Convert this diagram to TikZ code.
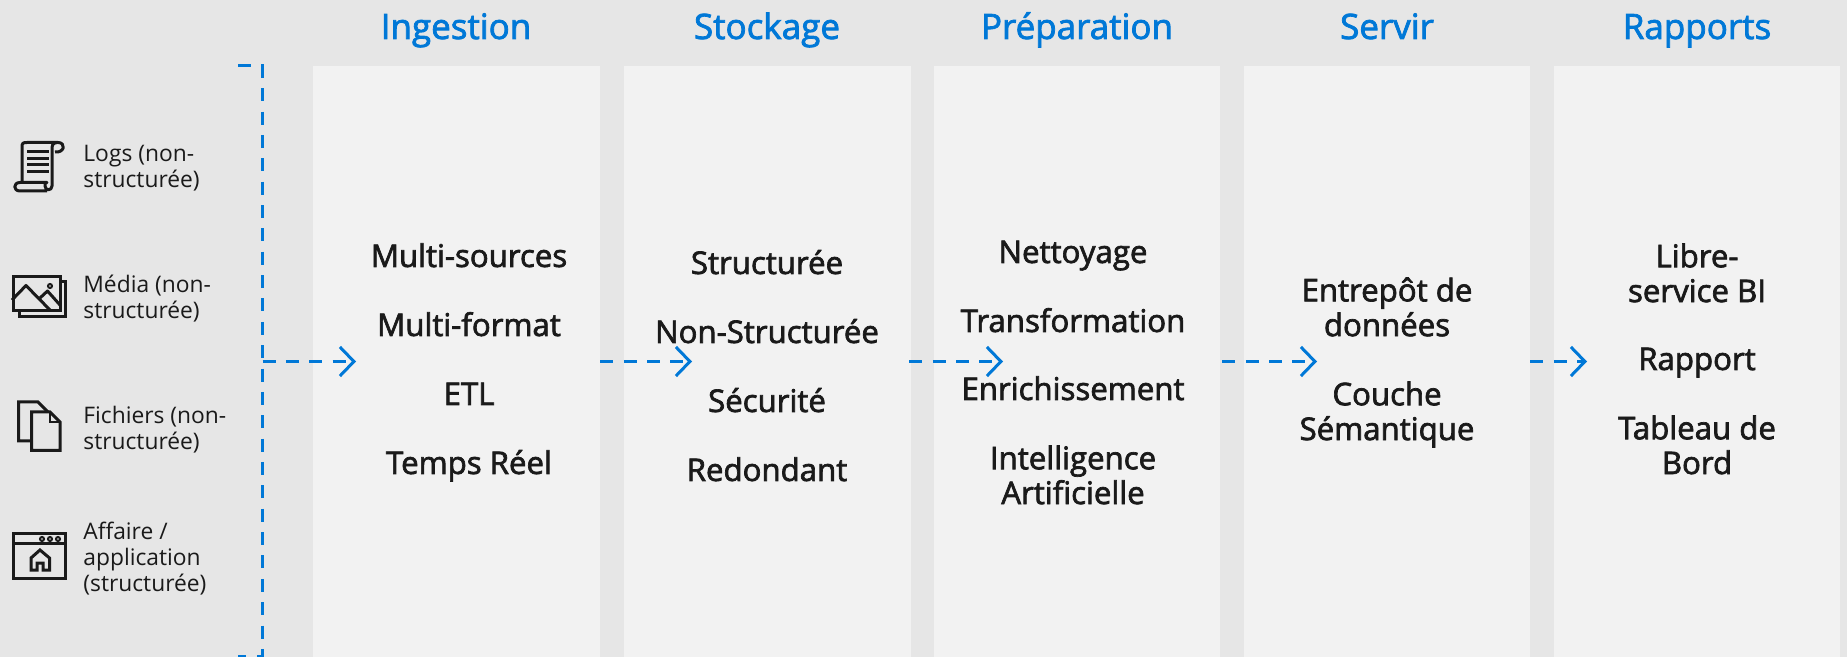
\documentclass[tikz,border=0pt]{standalone}
\usepackage{fontspec}
\usetikzlibrary{arrows.meta}
\setmainfont{Open Sans}
\newfontfamily\semifont[FakeBold=2.2]{Open Sans}
\newfontfamily\lightfont{Open Sans}
\definecolor{bggrey}{HTML}{E6E6E6}
\definecolor{panelgrey}{HTML}{F2F2F2}
\definecolor{msblue}{HTML}{0078D7}
\definecolor{inkblack}{HTML}{1A1A1A}
\tikzset{
  panel/.style={fill=panelgrey,minimum width=#1,minimum height=295.5pt,inner sep=0pt,draw=none},
  heading/.style={font=\semifont\fontsize{17.5}{21}\selectfont,text=msblue,inner sep=0pt},
  item/.style={font=\semifont\fontsize{15.6}{17.4}\selectfont,text=inkblack,align=center,inner sep=0pt,
     execute at begin node=\strut,execute at end node=\strut},
  source/.style={font=\lightfont\fontsize{11.4}{13}\selectfont,text=inkblack,align=left,anchor=west,inner sep=0pt,
     execute at begin node=\strut,execute at end node=\strut},
  flow/.style={draw=msblue,line width=1.5pt,dash pattern=on 6.5pt off 5.18pt},
  flowarrow/.style={flow,-{Straight Barb[length=7pt,width=14.5pt,line width=1.5pt]}},
  icon/.style={draw=inkblack,line width=1.5pt,fill=none},
  iconthin/.style={draw=inkblack,line width=1pt,fill=none},
}
\begin{document}
\begin{tikzpicture}[x=0.5pt,y=-0.5pt]
\fill[bggrey] (0,0) rectangle (1847,657);
\useasboundingbox (0,0) rectangle (1847,657);
% panels
\node[panel=143.5pt] (p1) at (456.5,361.5) {};
\node[panel=143.5pt] (p2) at (767.5,361.5) {};
\node[panel=143pt] (p3) at (1077,361.5) {};
\node[panel=143pt] (p4) at (1387,361.5) {};
\node[panel=143pt] (p5) at (1697,361.5) {};
% headings
\node[heading,anchor=base] (h1) at (456,39) {Ingestion};
\node[heading,anchor=base] (h2) at (767,39) {Stockage};
\node[heading,anchor=base] (h3) at (1077,39) {Préparation};
\node[heading,anchor=base] (h4) at (1387,39) {Servir};
\node[heading,anchor=base] (h5) at (1697,39) {Rapports};
% column 1
\node[item] (a1) at (469,260) {Multi-sources};
\node[item] (a2) at (469,329) {Multi-format};
\node[item] (a3) at (469,398) {ETL};
\node[item] (a4) at (469,467) {Temps Réel};
% column 2
\node[item] (b1) at (767,267) {Structurée};
\node[item] (b2) at (767,336) {Non-Structurée};
\node[item] (b3) at (767,405) {Sécurité};
\node[item] (b4) at (767,474) {Redondant};
% column 3
\node[item] (c1) at (1073,256) {Nettoyage};
\node[item] (c2) at (1073,325) {Transformation};
\node[item] (c3) at (1073,393) {Enrichissement};
\node[item] (c4) at (1073,480) {Intelligence\\Artificielle};
% column 4
\node[item] (d1) at (1387,312) {Entrepôt de\\données};
\node[item] (d2) at (1387,416) {Couche\\Sémantique};
% column 5
\node[item] (e1) at (1697,278) {Libre-\\service BI};
\node[item] (e2) at (1697,363) {Rapport};
\node[item] (e3) at (1697,450) {Tableau de\\Bord};
% sources
\node[source] (s1) at (83,170.5) {Logs (non-\\structurée)};
\node[source] (s2) at (83,300.5) {Média (non-\\structurée)};
\node[source] (s3) at (83,431.5) {Fichiers (non-\\structurée)};
\node[source] (s4) at (83,561) {Affaire /\\application\\(structurée)};
% bracket
\coordinate (bt) at (238,66);
\coordinate (btc) at (262.5,66);
\coordinate (bm) at (262.5,361.5);
\coordinate (bbc) at (262.5,656);
\coordinate (bb) at (238,656);
\draw[flow] (bt) -- (btc) -- (bbc) -- (bb);
% connectors
\coordinate (t1) at (356,361.5);
\coordinate (t2) at (692,361.5);
\coordinate (t3) at (1003,361.5);
\coordinate (t4) at (1317,361.5);
\coordinate (t5) at (1587,361.5);
\draw[flowarrow] (bm) -- (t1);
\draw[flowarrow] (p1.east) -- (t2);
\draw[flowarrow] ([xshift=-1pt]p2.east) -- (t3);
\draw[flowarrow] ([xshift=1pt]p3.east) -- (t4);
\draw[flowarrow] (p4.east) -- (t5);
% scroll icon
\draw[icon,line join=round] (22,182) -- (22,147) .. controls (22,143) and (23,142.5) .. (27,142.5) -- (58,142.5)
   .. controls (66,142.5) and (65,153) .. (55,152);
\draw[icon,line join=round] (57,142.5) .. controls (52,143) and (52,146) .. (52,150) -- (52,186) .. controls (52,191) and (45,191) .. (45,186) .. controls (45,183) and (45,182.5) .. (47,182.5) -- (20,182.5)
   .. controls (13,182.5) and (13,191) .. (20,191) -- (47,191);
\foreach \yy in {152,158.5,165,171.5}{\draw[draw=inkblack,line width=1.5pt] (27,\yy) -- (48.5,\yy);}
% media icon
\draw[icon] (19,311) -- (19,316.5) -- (65.5,316.5) -- (65.5,282) -- (60,282);
\draw[icon] (13.5,276.5) rectangle (60,311);
\draw[icon,line join=round] (12,300) -- (26,285.5) -- (50,310);
\draw[icon,line join=round] (40,298) -- (47.5,291) -- (60,305);
\draw[iconthin] (50,286) circle (1pt);
% files icon
\draw[icon,line join=miter] (31,441) -- (18.5,441) -- (18.5,402) -- (38,402) -- (48,412);
\draw[icon,line join=miter] (31.5,412) -- (50,412) -- (60,422) -- (60,450.5) -- (31.5,450.5) -- cycle;
\draw[iconthin] (50,412) -- (50,422) -- (60,422);
% window icon
\draw[icon] (13.5,533.5) rectangle (65.5,578.5);
\draw[icon] (13.5,543.5) -- (65.5,543.5);
\draw[iconthin] (42,539) circle (1pt) (50,539) circle (1pt) (58,539) circle (1pt);
\draw[icon,line join=miter] (37,570) -- (31,570) -- (31,558) -- (40,550) -- (49.5,558) -- (49.5,570) -- (43,570) -- (43,563) -- (37,563) -- cycle;
\end{tikzpicture}
\end{document}
